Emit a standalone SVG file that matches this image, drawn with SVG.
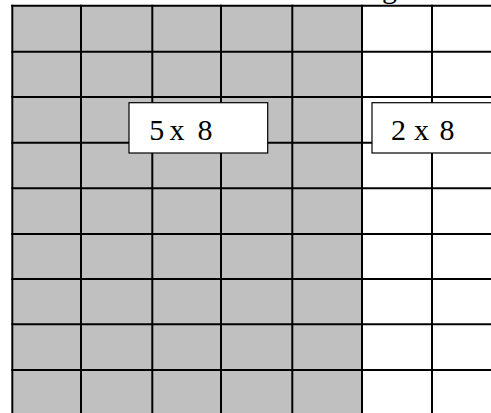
<svg xmlns="http://www.w3.org/2000/svg" width="491" height="413" viewBox="0 0 491 413">
  <style>
    .grid line { stroke: #000; stroke-width: 2; }
    .label rect { fill: #fff; stroke: #000; stroke-width: 1.2; }
    .label text, .cut { font-family: "Liberation Serif", "Times New Roman", serif; font-size: 30px; fill: #000; }
  </style>
  <rect x="0" y="0" width="491" height="413" fill="#fff"/>
  <text class="cut" x="382" y="-2.5">g</text>
  <g id="grid">
    <rect id="shaded" x="12.3" y="5.7" width="349.7" height="407.3" fill="#c0c0c0"/>
    <g class="grid">
      <line x1="11.3" y1="5.7" x2="491" y2="5.7"/>
      <line x1="11.3" y1="51.7" x2="491" y2="51.7"/>
      <line x1="11.3" y1="97" x2="491" y2="97"/>
      <line x1="11.3" y1="142.7" x2="491" y2="142.7"/>
      <line x1="11.3" y1="188.3" x2="491" y2="188.3"/>
      <line x1="11.3" y1="234" x2="491" y2="234"/>
      <line x1="11.3" y1="279" x2="491" y2="279"/>
      <line x1="11.3" y1="324.3" x2="491" y2="324.3"/>
      <line x1="11.3" y1="370" x2="491" y2="370"/>
      <line x1="12.3" y1="4.7" x2="12.3" y2="413"/>
      <line x1="81" y1="4.7" x2="81" y2="413"/>
      <line x1="152.3" y1="4.7" x2="152.3" y2="413"/>
      <line x1="221" y1="4.7" x2="221" y2="413"/>
      <line x1="292.3" y1="4.7" x2="292.3" y2="413"/>
      <line x1="362" y1="4.7" x2="362" y2="413"/>
      <line x1="432" y1="4.7" x2="432" y2="413"/>
    </g>
  </g>
  <g id="label-5x8" class="label">
    <rect x="129" y="102.7" width="138.7" height="50.3"/>
    <text x="149.3 163 169.6 186 197.6" y="140.3">5 x 8</text>
  </g>
  <g id="label-2x8" class="label">
    <rect x="372" y="102.7" width="130" height="50.3"/>
    <text x="391 406 414 429 439.4" y="140.3">2 x 8</text>
  </g>
</svg>
